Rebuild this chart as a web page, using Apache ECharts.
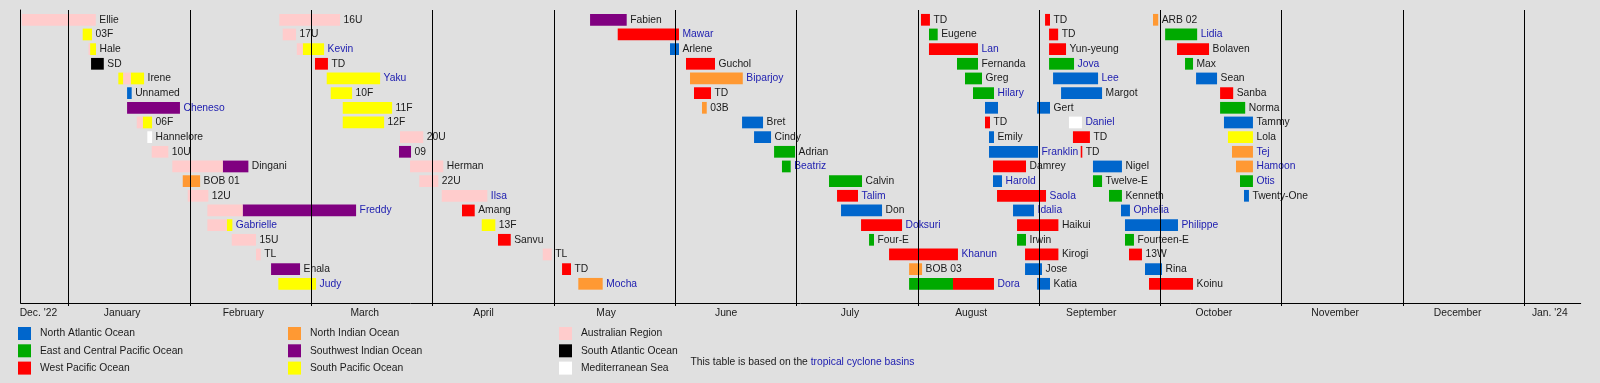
<!DOCTYPE html>
<html>
<head>
<meta charset="utf-8">
<script src="https://cdn.jsdelivr.net/npm/echarts@6/dist/echarts.min.js"></script>
<style>
html,body{margin:0;padding:0;background:#e0e0e0;}
#chart{width:1600px;height:383px;}
</style>
</head>
<body>
<div id="chart"></div>
<script>
// ---------- DATA ----------
// x values are in months counted from 1 January 2023 (0 = 1 Jan 2023, 12 = 1 Jan 2024)
const monthTicks = [0, 1, 2, 3, 4, 5, 6, 7, 8, 9, 10, 11, 12];
const monthNames = ["Dec. '22", 'January', 'February', 'March', 'April', 'May', 'June',
  'July', 'August', 'September', 'October', 'November', 'December', "Jan. '24"];
const monthLabelPos = [-0.25, 0.44, 1.44, 2.44, 3.42, 4.43, 5.42, 6.44, 7.44, 8.43, 9.44, 10.44, 11.45, 12.21];

const basinCodes = ['NATL', 'EPAC', 'WPAC', 'NIO', 'SWIO', 'SPAC', 'AUS', 'SATL', 'MED'];
const basinNames = ['North Atlantic Ocean', 'East and Central Pacific Ocean', 'West Pacific Ocean',
  'North Indian Ocean', 'Southwest Indian Ocean', 'South Pacific Ocean',
  'Australian Region', 'South Atlantic Ocean', 'Mediterranean Sea'];

// storms: [label, row, linked label (1) or plain (0), [[basin, start, end], ...]]
const storms = [
  ['Ellie', 0, 0, [['AUS', -0.387, 0.223]]],
  ['16U', 0, 0, [['AUS', 1.736, 2.237]]],
  ['Fabien', 0, 0, [['SWIO', 4.298, 4.600]]],
  ['TD', 0, 0, [['WPAC', 7.026, 7.100]]],
  ['TD', 0, 0, [['WPAC', 8.049, 8.090]]],
  ['ARB 02', 0, 0, [['NIO', 8.939, 8.982]]],

  ['03F', 1, 0, [['SPAC', 0.115, 0.192]]],
  ['17U', 1, 0, [['AUS', 1.764, 1.874]]],
  ['Mawar', 1, 1, [['WPAC', 4.526, 5.031]]],
  ['Eugene', 1, 0, [['EPAC', 7.092, 7.164]]],
  ['TD', 1, 0, [['WPAC', 8.082, 8.157]]],
  ['Lidia', 1, 1, [['EPAC', 9.039, 9.303]]],

  ['Hale', 2, 0, [['AUS', 0.163, 0.176], ['SPAC', 0.176, 0.225]]],
  ['Kevin', 2, 1, [['AUS', 1.880, 1.929], ['SPAC', 1.929, 2.105]]],
  ['Arlene', 2, 0, [['NATL', 4.957, 5.031]]],
  ['Lan', 2, 1, [['WPAC', 7.092, 7.496]]],
  ['Yun-yeung', 2, 0, [['WPAC', 8.082, 8.222]]],
  ['Bolaven', 2, 0, [['WPAC', 9.137, 9.401]]],

  ['SD', 3, 0, [['SATL', 0.184, 0.289]]],
  ['TD', 3, 0, [['WPAC', 2.030, 2.137]]],
  ['Guchol', 3, 0, [['WPAC', 5.089, 5.328]]],
  ['Fernanda', 3, 0, [['EPAC', 7.323, 7.496]]],
  ['Jova', 3, 1, [['EPAC', 8.082, 8.288]]],
  ['Max', 3, 0, [['EPAC', 9.203, 9.269]]],

  ['Irene', 4, 0, [['SPAC', 0.409, 0.450], ['AUS', 0.450, 0.511], ['SPAC', 0.511, 0.621]]],
  ['Yaku', 4, 1, [['SPAC', 2.127, 2.567]]],
  ['Biparjoy', 4, 1, [['NIO', 5.122, 5.557]]],
  ['Greg', 4, 0, [['EPAC', 7.389, 7.529]]],
  ['Lee', 4, 1, [['NATL', 8.115, 8.486]]],
  ['Sean', 4, 0, [['NATL', 9.294, 9.467]]],

  ['Unnamed', 5, 0, [['NATL', 0.481, 0.519]]],
  ['10F', 5, 0, [['SPAC', 2.160, 2.336]]],
  ['TD', 5, 0, [['WPAC', 5.155, 5.295]]],
  ['Hilary', 5, 1, [['EPAC', 7.455, 7.628]]],
  ['Margot', 5, 0, [['NATL', 8.181, 8.519]]],
  ['Sanba', 5, 0, [['WPAC', 9.492, 9.600]]],

  ['Cheneso', 6, 1, [['SWIO', 0.481, 0.917]]],
  ['11F', 6, 0, [['SPAC', 2.259, 2.666]]],
  ['03B', 6, 0, [['NIO', 5.221, 5.260]]],
  ['Gert', 6, 0, [['NATL', 7.554, 7.661], ['NATL', 7.983, 8.090]]],
  ['Norma', 6, 0, [['EPAC', 9.492, 9.699]]],

  ['06F', 7, 0, [['AUS', 0.561, 0.610], ['SPAC', 0.610, 0.687]]],
  ['12F', 7, 0, [['SPAC', 2.259, 2.600]]],
  ['Bret', 7, 0, [['NATL', 5.551, 5.724]]],
  ['TD', 7, 0, [['WPAC', 7.554, 7.595]]],
  ['Daniel', 7, 1, [['MED', 8.246, 8.353]]],
  ['Tammy', 7, 0, [['NATL', 9.524, 9.763]]],

  ['Hannelore', 8, 0, [['MED', 0.648, 0.687]]],
  ['20U', 8, 0, [['AUS', 2.731, 2.923]]],
  ['Cindy', 8, 0, [['NATL', 5.650, 5.790]]],
  ['Emily', 8, 0, [['NATL', 7.587, 7.628]]],
  ['TD', 8, 0, [['WPAC', 8.279, 8.419]]],
  ['Lola', 8, 0, [['SPAC', 9.557, 9.763]]],

  ['10U', 9, 0, [['AUS', 0.684, 0.821]]],
  ['09', 9, 0, [['SWIO', 2.723, 2.822]]],
  ['Adrian', 9, 0, [['EPAC', 5.815, 5.988]]],
  ['Franklin', 9, 1, [['NATL', 7.587, 7.991]]],
  ['TD', 9, 0, [['WPAC', 8.343, 8.356]]],
  ['Tej', 9, 1, [['NIO', 9.590, 9.763]]],

  ['Dingani', 10, 0, [['AUS', 0.854, 1.270], ['SWIO', 1.270, 1.481]]],
  ['Herman', 10, 0, [['AUS', 2.814, 3.088]]],
  ['Beatriz', 10, 1, [['EPAC', 5.880, 5.952]]],
  ['Damrey', 10, 0, [['WPAC', 7.620, 7.892]]],
  ['Nigel', 10, 0, [['NATL', 8.444, 8.683]]],
  ['Hamoon', 10, 1, [['NIO', 9.623, 9.763]]],

  ['BOB 01', 11, 0, [['NIO', 0.940, 1.083]]],
  ['22U', 11, 0, [['AUS', 2.890, 3.047]]],
  ['Calvin', 11, 0, [['EPAC', 6.268, 6.540]]],
  ['Harold', 11, 1, [['NATL', 7.620, 7.694]]],
  ['Twelve-E', 11, 0, [['EPAC', 8.444, 8.519]]],
  ['Otis', 11, 1, [['EPAC', 9.656, 9.763]]],

  ['12U', 12, 0, [['AUS', 0.981, 1.151]]],
  ['Ilsa', 12, 1, [['AUS', 3.075, 3.451]]],
  ['Talim', 12, 1, [['WPAC', 6.334, 6.507]]],
  ['Saola', 12, 1, [['WPAC', 7.653, 8.057]]],
  ['Kenneth', 12, 0, [['EPAC', 8.576, 8.683]]],
  ['Twenty-One', 12, 0, [['NATL', 9.689, 9.730]]],

  ['Freddy', 13, 1, [['AUS', 1.143, 1.434], ['SWIO', 1.434, 2.369]]],
  ['Amang', 13, 0, [['WPAC', 3.242, 3.347]]],
  ['Don', 13, 0, [['NATL', 6.367, 6.705]]],
  ['Idalia', 13, 1, [['NATL', 7.785, 7.958]]],
  ['Ophelia', 13, 1, [['NATL', 8.675, 8.749]]],

  ['Gabrielle', 14, 1, [['AUS', 1.143, 1.303], ['SPAC', 1.303, 1.349]]],
  ['13F', 14, 0, [['SPAC', 3.405, 3.517]]],
  ['Doksuri', 14, 1, [['WPAC', 6.532, 6.870]]],
  ['Haikui', 14, 0, [['WPAC', 7.818, 8.159]]],
  ['Philippe', 14, 1, [['NATL', 8.708, 9.145]]],

  ['15U', 15, 0, [['AUS', 1.344, 1.544]]],
  ['Sanvu', 15, 0, [['WPAC', 3.539, 3.644]]],
  ['Four-E', 15, 0, [['EPAC', 6.598, 6.639]]],
  ['Irwin', 15, 0, [['EPAC', 7.818, 7.892]]],
  ['Fourteen-E', 15, 0, [['EPAC', 8.708, 8.782]]],

  ['TL', 16, 0, [['AUS', 1.544, 1.583]]],
  ['TL', 16, 0, [['AUS', 3.908, 3.982]]],
  ['Khanun', 16, 1, [['WPAC', 6.763, 7.331]]],
  ['Kirogi', 16, 0, [['WPAC', 7.884, 8.159]]],
  ['13W', 16, 0, [['WPAC', 8.741, 8.848]]],

  ['Enala', 17, 0, [['SWIO', 1.668, 1.907]]],
  ['TD', 17, 0, [['WPAC', 4.067, 4.141]]],
  ['BOB 03', 17, 0, [['NIO', 6.928, 7.035]]],
  ['Jose', 17, 0, [['NATL', 7.884, 8.024]]],
  ['Rina', 17, 0, [['NATL', 8.873, 9.013]]],

  ['Judy', 18, 1, [['SPAC', 1.728, 2.039]]],
  ['Mocha', 18, 1, [['NIO', 4.201, 4.402]]],
  ['Dora', 18, 1, [['EPAC', 6.928, 7.290], ['WPAC', 7.290, 7.628]]],
  ['Katia', 18, 0, [['NATL', 7.983, 8.090]]],
  ['Koinu', 18, 0, [['WPAC', 8.906, 9.269]]]
];

const noteText = 'This table is based on the ';
const noteLink = 'tropical cyclone basins';

// ---------- STYLE ----------
const FONT = '"Liberation Sans", Arial, Helvetica, sans-serif';
const FS = 10.3;
const basinColors = {
  NATL: '#0066cc', EPAC: '#00aa00', WPAC: '#ff0000', NIO: '#ff9933', SWIO: '#800080',
  SPAC: '#ffff00', AUS: '#ffcccc', SATL: '#000000', MED: '#ffffff'
};
const LINK = '#2020b0';
const TEXT = '#1a1a1a';

// ---------- BUILD ----------
const segByBasin = {};
basinCodes.forEach(c => segByBasin[c] = []);
const labelData = [];
const labelText = [];
const labelLinked = [];
storms.forEach(s => {
  let end = -Infinity;
  s[3].forEach(seg => {
    segByBasin[seg[0]].push([seg[1], seg[2], s[1]]);
    end = Math.max(end, seg[2]);
  });
  labelData.push([end, s[1]]);
  labelText.push(s[0]);
  labelLinked.push(s[2]);
});

function renderBar(params, api) {
  const a = api.coord([api.value(0), api.value(2)]);
  const b = api.coord([api.value(1), api.value(2)]);
  const h = api.size([0, 1])[1] * 0.8;
  return {
    type: 'rect',
    shape: { x: a[0], y: a[1] - h / 2, width: b[0] - a[0], height: h },
    style: { fill: api.visual('color') }
  };
}

function renderLabel(params, api) {
  const p = api.coord([api.value(0), api.value(1)]);
  const i = params.dataIndex;
  return {
    type: 'text',
    x: p[0] + 3.5,
    y: p[1],
    style: {
      text: labelText[i],
      fill: labelLinked[i] ? LINK : TEXT,
      font: FS + 'px ' + FONT,
      align: 'left',
      verticalAlign: 'middle'
    }
  };
}

const series = basinCodes.map((c, k) => ({
  type: 'custom',
  name: basinNames[k],
  renderItem: renderBar,
  itemStyle: { color: basinColors[c] },
  encode: { x: [0, 1], y: 2 },
  data: segByBasin[c],
  clip: false,
  z: 2
}));
series.push({
  type: 'custom',
  name: 'labels',
  renderItem: renderLabel,
  encode: { x: 0, y: 1 },
  data: labelData,
  clip: false,
  z: 3
});
series.push({
  type: 'line',
  name: 'grid',
  data: [],
  z: 5,
  markLine: {
    silent: true,
    symbol: ['none', 'none'],
    label: { show: false },
    lineStyle: { color: '#000', width: 1, type: 'solid' },
    data: monthTicks.map(v => ({ xAxis: v }))
  }
});

function legendFor(names, left) {
  return {
    orient: 'vertical',
    left: left,
    top: 327,
    padding: 0,
    itemWidth: 13,
    itemHeight: 13,
    itemGap: 4.3,
    icon: 'rect',
    selectedMode: false,
    data: names,
    textStyle: { fontFamily: FONT, fontSize: FS, color: TEXT, padding: [2, 0, 0, 4] }
  };
}

const chart = echarts.init(document.getElementById('chart'), null, { renderer: 'canvas' });
chart.setOption({
  backgroundColor: '#e0e0e0',
  animation: false,
  textStyle: { fontFamily: FONT },
  title: {
    left: 690.5,
    top: 357,
    padding: 0,
    text: '{a|' + noteText + '}{b|' + noteLink + '}',
    textStyle: {
      fontWeight: 'normal',
      fontSize: FS,
      rich: {
        a: { fontFamily: FONT, fontSize: FS, fontWeight: 'normal', color: TEXT },
        b: { fontFamily: FONT, fontSize: FS, fontWeight: 'normal', color: LINK }
      }
    }
  },
  legend: [
    legendFor(basinNames.slice(0, 3), 18),
    legendFor(basinNames.slice(3, 6), 288),
    legendFor(basinNames.slice(6, 9), 559)
  ],
  grid: { left: 20.7, right: 19.3, top: 10, bottom: 80, containLabel: false },
  xAxis: {
    type: 'value',
    min: -0.396,
    max: 12.465,
    axisLine: { show: true, onZero: false, lineStyle: { color: '#000', width: 1 } },
    axisTick: { show: true, customValues: monthTicks, length: 3, lineStyle: { color: '#000' } },
    axisLabel: {
      show: true,
      customValues: monthLabelPos,
      margin: 5,
      fontFamily: FONT,
      fontSize: FS,
      color: TEXT,
      formatter: function (v) {
        let best = 0;
        monthLabelPos.forEach((p, i) => { if (Math.abs(p - v) < Math.abs(monthLabelPos[best] - v)) best = i; });
        return monthNames[best];
      }
    },
    splitLine: { show: false }
  },
  yAxis: {
    type: 'value',
    inverse: true,
    min: -0.668,
    max: 19.309,
    axisLine: { show: true, onZero: false, lineStyle: { color: '#000', width: 1 } },
    axisTick: { show: false },
    axisLabel: { show: false },
    splitLine: { show: false }
  },
  series: series
});
</script>
</body>
</html>
